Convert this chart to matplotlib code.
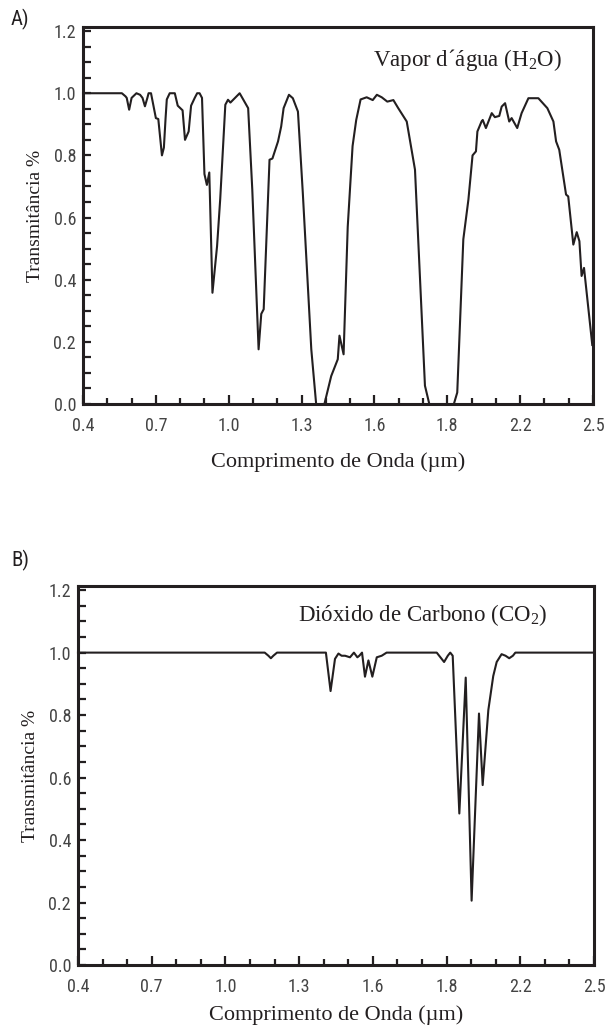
import matplotlib
matplotlib.use("Agg")
import matplotlib.pyplot as plt
from matplotlib import font_manager
from matplotlib.ticker import MultipleLocator, FixedLocator, FixedFormatter

# fontes
available = set(f.name for f in font_manager.fontManager.ttflist)
SANS = "DejaVu Sans"
for cand in ["Liberation Sans Narrow", "Roboto Condensed", "Lato"]:
    if cand in available:
        SANS = cand
        break
SERIF = "Liberation Serif" if "Liberation Serif" in available else "DejaVu Serif"
plt.rcParams["mathtext.fontset"] = "custom"
plt.rcParams["mathtext.rm"] = SERIF

# eixo x
xticks_pos = [0.4, 0.7, 1.0, 1.3, 1.6, 1.9, 2.2, 2.5]
xticks_lab = ["0.4", "0.7", "1.0", "1.3", "1.6", "1.8", "2.2", "2.5"]
yticks_pos = [0.0, 0.2, 0.4, 0.6, 0.8, 1.0, 1.2]
yticks_lab = ["0.0", "0.2", "0.4", "0.6", "0.8", "1.0", "1.2"]

# A) vapor d'agua
wl_h2o = [0.40, 0.56, 0.575, 0.58, 0.59, 0.60, 0.62, 0.635, 0.645, 0.655, 0.665,
          0.67, 0.68, 0.69, 0.70, 0.71, 0.725, 0.733, 0.74, 0.745, 0.757, 0.778,
          0.79, 0.81, 0.82, 0.835, 0.845, 0.86, 0.87, 0.88, 0.89, 0.90, 0.91,
          0.92, 0.933, 0.952, 0.965, 0.986, 0.997, 1.007, 1.045, 1.08, 1.097,
          1.123, 1.134, 1.144, 1.168, 1.18, 1.203, 1.216, 1.226, 1.248, 1.264,
          1.285, 1.305, 1.34, 1.36, 1.394, 1.422, 1.449, 1.456, 1.473, 1.49,
          1.51, 1.525, 1.543, 1.568, 1.593, 1.61, 1.63, 1.653, 1.678, 1.698,
          1.733, 1.767, 1.808, 1.826, 1.927, 1.941, 1.966, 1.987, 2.004, 2.018,
          2.024, 2.041, 2.046, 2.059, 2.083, 2.096, 2.114, 2.124, 2.138, 2.155,
          2.165, 2.188, 2.206, 2.234, 2.275, 2.312, 2.337, 2.348, 2.361, 2.389,
          2.398, 2.419, 2.433, 2.444, 2.453, 2.463, 2.497]
tr_h2o = [1.0, 1.0, 0.99, 0.985, 0.947, 0.985, 1.0, 0.995, 0.985, 0.958, 0.985,
          1.0, 1.0, 0.96, 0.92, 0.917, 0.80, 0.825, 0.92, 0.98, 1.0, 1.0,
          0.96, 0.945, 0.85, 0.877, 0.96, 0.985, 1.0, 1.0, 0.985, 0.74, 0.705,
          0.745, 0.358, 0.508, 0.66, 0.963, 0.979, 0.97, 1.0, 0.952, 0.69,
          0.176, 0.29, 0.305, 0.786, 0.79, 0.845, 0.893, 0.952, 0.995, 0.984,
          0.941, 0.68, 0.176, 0.0, 0.0, 0.09, 0.144, 0.22, 0.16, 0.57,
          0.83, 0.914, 0.98, 0.987, 0.978, 0.995, 0.987, 0.973, 0.978, 0.952,
          0.909, 0.754, 0.059, 0.0, 0.0, 0.037, 0.53, 0.658, 0.80, 0.813,
          0.877, 0.909, 0.914, 0.888, 0.936, 0.923, 0.927, 0.957, 0.968, 0.909,
          0.92, 0.888, 0.936, 0.984, 0.984, 0.952, 0.909, 0.845, 0.818, 0.674,
          0.668, 0.513, 0.553, 0.524, 0.412, 0.438, 0.19]

# B) dioxido de carbono
wl_co2 = [0.40, 1.16, 1.175, 1.185, 1.195, 1.21, 1.409, 1.428, 1.446, 1.46,
          1.473, 1.487, 1.507, 1.523, 1.537, 1.545, 1.556, 1.568, 1.582, 1.598,
          1.616, 1.636, 1.656, 1.86, 1.875, 1.89, 1.905, 1.915, 1.925, 1.952,
          1.978, 2.002, 2.032, 2.047, 2.07, 2.09, 2.104, 2.124, 2.14, 2.155,
          2.17, 2.18, 2.50]
tr_co2 = [1.0, 1.0, 0.99, 0.982, 0.99, 1.0, 1.0, 0.877, 0.98, 0.997,
          0.99, 0.99, 0.985, 1.0, 0.985, 0.99, 1.0, 0.923, 0.975, 0.923,
          0.985, 0.99, 1.0, 1.0, 0.985, 0.97, 0.99, 1.0, 0.99, 0.485,
          0.92, 0.206, 0.805, 0.576, 0.816, 0.925, 0.97, 0.995, 0.99, 0.982,
          0.99, 1.0, 1.0]

INK = "#231f20"

fig = plt.figure(figsize=(6.14, 10.32), dpi=100)
axA = fig.add_axes([0.1352, 0.6085, 0.8306, 0.3653])
axB = fig.add_axes([0.1270, 0.0649, 0.8404, 0.3672])


def style_axis(ax, xpad):
    ax.set_xlim(0.4, 2.5)
    ax.set_ylim(0, 1.213)
    for s in ax.spines.values():
        s.set_linewidth(2.2)
        s.set_color(INK)
    ax.xaxis.set_major_locator(FixedLocator(xticks_pos))
    ax.xaxis.set_major_formatter(FixedFormatter(xticks_lab))
    ax.xaxis.set_minor_locator(MultipleLocator(0.1))
    ax.yaxis.set_major_locator(FixedLocator(yticks_pos))
    ax.yaxis.set_major_formatter(FixedFormatter(yticks_lab))
    ax.yaxis.set_minor_locator(MultipleLocator(0.05))
    ax.tick_params(axis="x", which="major", direction="in", length=6.5, width=1.6,
                   color=INK, pad=9, labelsize=13, labelcolor="#444444")
    ax.tick_params(axis="x", which="minor", direction="in", length=4.2, width=1.6,
                   color=INK)
    ax.tick_params(axis="y", which="both", direction="in", length=5.5, width=1.6,
                   color=INK, pad=5, labelsize=13, labelcolor="#444444")
    for lab in ax.get_xticklabels() + ax.get_yticklabels():
        lab.set_fontfamily(SANS)
    ax.set_xlabel("Comprimento de Onda (µm)", fontfamily=SERIF, fontsize=16,
                  color=INK, labelpad=xpad)
    ax.set_ylabel("Transmitância %", fontfamily=SERIF, fontsize=14,
                  color=INK, labelpad=7)


axA.plot(wl_h2o, tr_h2o, color=INK, lw=1.5, clip_on=False)
style_axis(axA, 13)
axA.text(0.939, 0.912, "Vapor d´água (H$_\\mathregular{2}$O)", transform=axA.transAxes,
         ha="right", va="center", fontfamily=SERIF, fontsize=16.5, color=INK)

axB.plot(wl_co2, tr_co2, color=INK, lw=1.5, clip_on=False)
style_axis(axB, 7)
axB.text(0.909, 0.923, "Dióxido de Carbono (CO$_\\mathregular{2}$)", transform=axB.transAxes,
         ha="right", va="center", fontfamily=SERIF, fontsize=16.5, color=INK)

fig.text(20 / 614, 1 - 19 / 1032, "A)", ha="center", va="center",
         fontfamily=SANS, fontsize=15, color=INK)
fig.text(20 / 614, 1 - 560 / 1032, "B)", ha="center", va="center",
         fontfamily=SANS, fontsize=15, color=INK)

fig.savefig("out.png", dpi=100, facecolor="white")
